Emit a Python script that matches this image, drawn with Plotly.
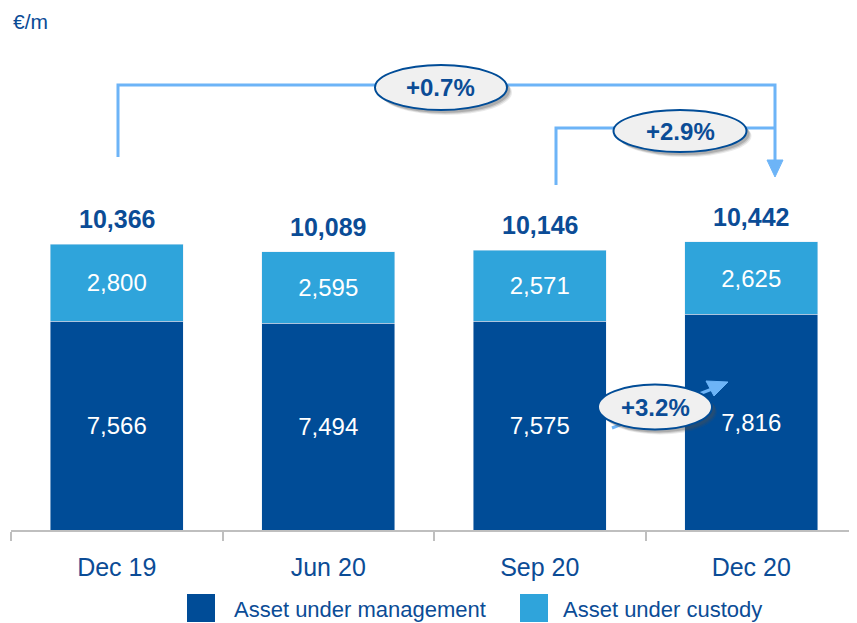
import plotly.graph_objects as go

categories = ["Dec 19", "Jun 20", "Sep 20", "Dec 20"]
aum = [7566, 7494, 7575, 7816]
auc = [2800, 2595, 2571, 2625]
totals = [10366, 10089, 10146, 10442]
series_names = ["Asset under management", "Asset under custody"]
growth_labels = ["+0.7%", "+2.9%", "+3.2%"]

FONT = "Liberation Sans, Arial, sans-serif"
DARK = "#004C97"
LIGHT = "#2FA4DB"
TXT = "#0B4C96"
LINE = "#6DB4F7"

OFF = 8  # page body margin
W, H = 857 - OFF, 623 - OFF
ML, MR, MT, MB = 11 - OFF, 0, 20 - OFF, 93
PW = W - ML - MR
PH = H - MT - MB
YMAX = PH / (286 / 10366)


def px(x):
    return (x - OFF - ML) / PW


def py(y):
    return (H - MB - (y - OFF)) / PH


fig = go.Figure()
fig.add_trace(go.Bar(x=categories, y=aum, name=series_names[0], marker_color=DARK,
                     text=[f"{v:,}" for v in aum], textposition="inside",
                     insidetextanchor="middle", textangle=0,
                     textfont=dict(color="white", size=24, family=FONT),
                     showlegend=False))
fig.add_trace(go.Bar(x=categories, y=auc, name=series_names[1], marker_color=LIGHT,
                     text=[f"{v:,}" for v in auc], textposition="inside",
                     insidetextanchor="middle", textangle=0,
                     textfont=dict(color="white", size=24, family=FONT),
                     showlegend=False))

annotations = []
for c, t in zip(categories, totals):
    annotations.append(dict(x=c, y=t, xref="x", yref="y", text=f"<b>{t:,}</b>",
                            showarrow=False, yanchor="bottom", yshift=9,
                            font=dict(size=25, color=TXT, family=FONT)))

shapes = []


def line(pts, width=3):
    path = "M " + " L ".join(f"{px(x)},{py(y)}" for x, y in pts)
    shapes.append(dict(type="path", xref="paper", yref="paper", path=path,
                       line=dict(color=LINE, width=width), layer="above"))


def tri(pts):
    path = "M " + " L ".join(f"{px(x)},{py(y)}" for x, y in pts) + " Z"
    shapes.append(dict(type="path", xref="paper", yref="paper", path=path,
                       fillcolor=LINE, line=dict(color=LINE, width=1), layer="above"))


def oval(cx, cy, w, h, label):
    for i, op in enumerate([0.12, 0.18, 0.25]):
        o = 5 - i
        shapes.append(dict(type="circle", xref="paper", yref="paper",
                           x0=px(cx - w / 2 + o), x1=px(cx + w / 2 + o),
                           y0=py(cy + h / 2 + o), y1=py(cy - h / 2 + o),
                           fillcolor=f"rgba(80,80,80,{op})", line=dict(width=0),
                           layer="above"))
    shapes.append(dict(type="circle", xref="paper", yref="paper",
                       x0=px(cx - w / 2), x1=px(cx + w / 2),
                       y0=py(cy + h / 2), y1=py(cy - h / 2),
                       fillcolor="#F0F0F0", line=dict(color=DARK, width=2),
                       layer="above"))
    annotations.append(dict(x=px(cx), y=py(cy), xref="paper", yref="paper",
                            text=f"<b>{label}</b>", showarrow=False,
                            xanchor="center", yanchor="middle",
                            font=dict(size=24, color=TXT, family=FONT)))


# brackets
line([(118, 157), (118, 85), (775, 85), (775, 162)])
tri([(767, 160), (783, 160), (775, 177)])
line([(556, 185), (556, 128), (775, 128)])
oval(441, 87.5, 132, 45, growth_labels[0])
oval(680, 131, 133, 42, growth_labels[1])
# 3.2% arrow
line([(612, 428), (712, 389)])
tri([(706, 381), (714, 396), (728, 382)])
oval(655, 407, 114, 45, growth_labels[2])

# unit label
annotations.append(dict(x=px(11), y=py(22), xref="paper", yref="paper", text="€/m",
                        showarrow=False, xanchor="left", yanchor="middle",
                        font=dict(size=21, color=TXT, family=FONT)))

# legend (manual)
legend_items = [(187, DARK, 232), (520, LIGHT, 561)]
for (sx, col, tx), name in zip(legend_items, series_names):
    shapes.append(dict(type="rect", xref="paper", yref="paper",
                       x0=px(sx), x1=px(sx + 28), y0=py(622), y1=py(594),
                       fillcolor=col, line=dict(width=0)))
    annotations.append(dict(x=px(tx), y=py(609), xref="paper", yref="paper",
                            text=name, showarrow=False, xanchor="left",
                            yanchor="middle",
                            font=dict(size=22, color=TXT, family=FONT)))

fig.update_layout(
    width=W, height=H,
    margin=dict(l=ML, r=MR, t=MT, b=MB),
    barmode="stack", bargap=0.372,
    plot_bgcolor="white", paper_bgcolor="white",
    shapes=shapes, annotations=annotations,
    font=dict(family=FONT, color=TXT),
    xaxis=dict(showline=True, linecolor="#BFBFBF", linewidth=2,
               ticks="outside", tickson="boundaries", ticklen=9,
               tickcolor="#BFBFBF", tickwidth=2, ticklabelstandoff=14,
               tickfont=dict(size=25, color=TXT, family=FONT),
               showgrid=False, fixedrange=True),
    yaxis=dict(range=[0, YMAX], visible=False, showgrid=False, fixedrange=True),
)

fig.write_html("out.html")
